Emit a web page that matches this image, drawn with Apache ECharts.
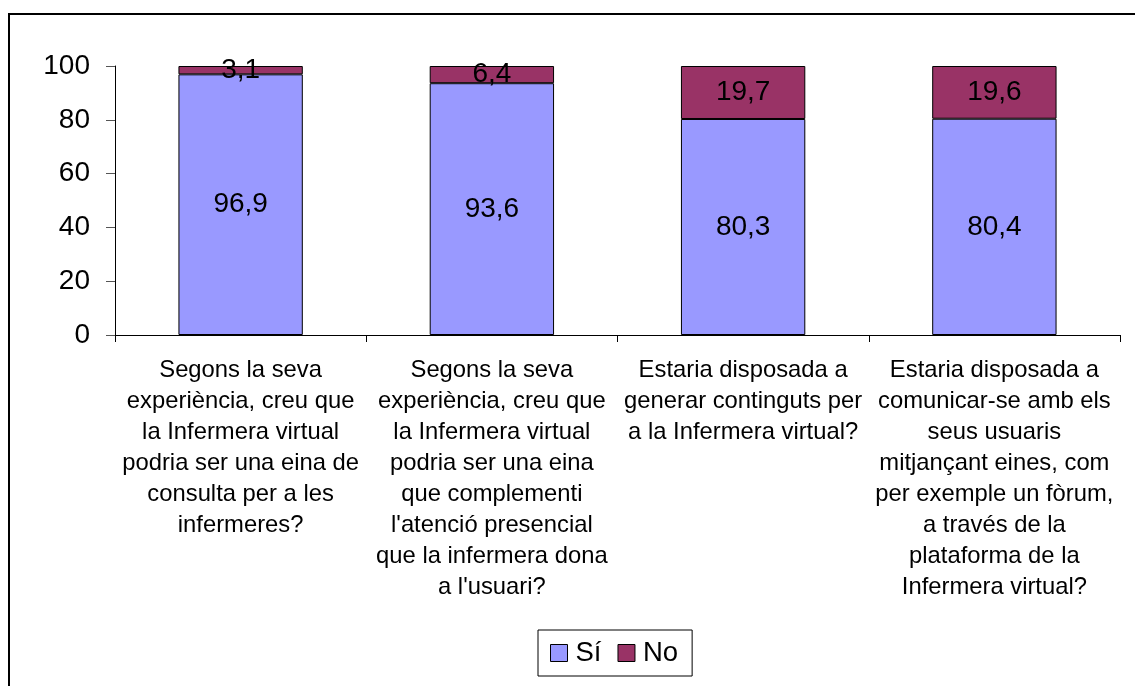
<!DOCTYPE html>
<html>
<head>
<meta charset="utf-8">
<script src="https://cdn.jsdelivr.net/npm/echarts@6/dist/echarts.min.js"></script>
<style>
html,body{margin:0;padding:0;background:#fff;}
#chart{width:1135px;height:686px;}
</style>
</head>
<body>
<div id="chart"></div>
<script>
const categories = [
  "Segons la seva\nexperiència, creu que\nla Infermera virtual\npodria ser una eina de\nconsulta per a les\ninfermeres?",
  "Segons la seva\nexperiència, creu que\nla Infermera virtual\npodria ser una eina\nque complementi\nl'atenció presencial\nque la infermera dona\na l'usuari?",
  "Estaria disposada a\ngenerar continguts per\na la Infermera virtual?",
  "Estaria disposada a\ncomunicar-se amb els\nseus usuaris\nmitjançant eines, com\nper exemple un fòrum,\na través de la\nplataforma de la\nInfermera virtual?"
];
const siValues = [96.9, 93.6, 80.3, 80.4];
const noValues = [3.1, 6.4, 19.7, 19.6];
const yTicks = { min: 0, max: 100, interval: 20 };

const FONT = '"Liberation Sans", Arial, sans-serif';
const fmt = p => String(p.value).replace('.', ',');

const chart = echarts.init(document.getElementById('chart'), null, { renderer: 'canvas' });
chart.setOption({
  animation: false,
  backgroundColor: '#fff',
  textStyle: { fontFamily: FONT },
  graphic: [{
    type: 'rect',
    shape: { x: 9, y: 14, width: 1300, height: 900 },
    style: { fill: 'none', stroke: '#000', lineWidth: 2 },
    silent: true
  }],
  grid: { left: 115, right: 15, top: 66, bottom: 351, containLabel: false },
  legend: {
    data: ['Sí', 'No'],
    left: 538,
    top: 630,
    orient: 'horizontal',
    backgroundColor: '#fff',
    borderColor: '#000',
    borderWidth: 1,
    borderRadius: 0,
    padding: [9, 14, 9, 12],
    itemGap: 16,
    itemWidth: 17,
    itemHeight: 17,
    icon: 'rect',
    textStyle: { fontFamily: FONT, fontSize: 27.5, color: '#000', padding: [0, 0, 0, 3] },
    itemStyle: { borderColor: '#000', borderWidth: 1 }
  },
  xAxis: {
    type: 'category',
    data: categories,
    axisLine: { show: true, lineStyle: { color: '#000', width: 1 } },
    axisTick: { show: true, alignWithLabel: false, length: 7, lineStyle: { color: '#000' } },
    axisLabel: {
      interval: 0,
      margin: 20,
      fontFamily: FONT,
      fontSize: 23.8,
      lineHeight: 31,
      color: '#000',
      align: 'center'
    },
    splitLine: { show: false }
  },
  yAxis: {
    type: 'value',
    min: yTicks.min,
    max: yTicks.max,
    interval: yTicks.interval,
    axisLine: { show: true, lineStyle: { color: '#000', width: 1 } },
    axisTick: { show: true, length: 9, lineStyle: { color: '#555' } },
    axisLabel: { margin: 25, fontFamily: FONT, fontSize: 28, color: '#000' },
    splitLine: { show: false }
  },
  series: [
    {
      name: 'Sí',
      type: 'bar',
      stack: 'total',
      data: siValues,
      barWidth: '49.5%',
      itemStyle: { color: '#9999FF', borderColor: '#000', borderWidth: 1 },
      label: { show: true, position: 'inside', formatter: fmt, fontFamily: FONT, fontSize: 28, color: '#000' }
    },
    {
      name: 'No',
      type: 'bar',
      stack: 'total',
      data: noValues,
      barWidth: '49.5%',
      itemStyle: { color: '#993366', borderColor: '#000', borderWidth: 1 },
      label: { show: true, position: 'inside', formatter: fmt, fontFamily: FONT, fontSize: 28, color: '#000' }
    }
  ]
});
</script>
</body>
</html>
